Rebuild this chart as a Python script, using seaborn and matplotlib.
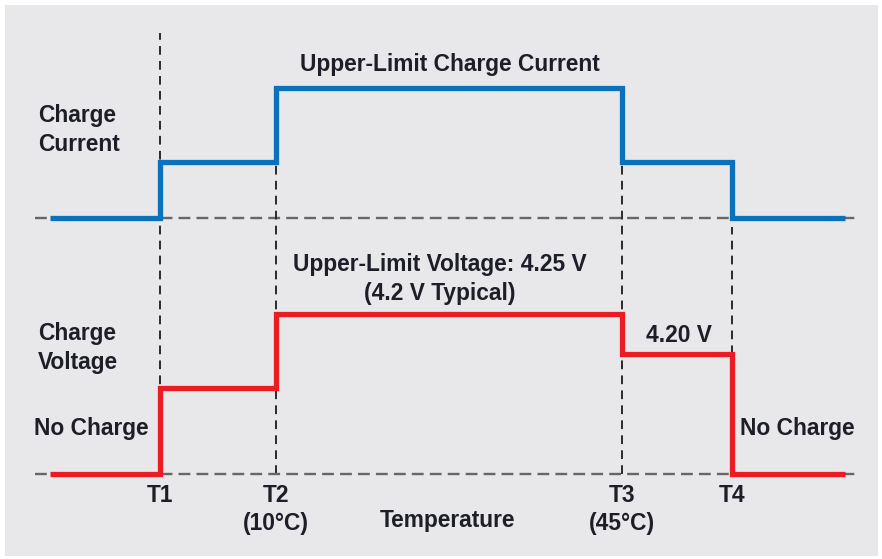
import matplotlib
matplotlib.use("Agg")
import matplotlib.pyplot as plt
import matplotlib.patches as mpatches
import seaborn as sns
import pandas as pd

# ---- data ----
# temperature breakpoints (relative units): start, T1, T2, T3, T4, end
temp_edges = [0.0, 1.0, 2.06, 5.22, 6.22, 7.25]
tick_labels = ["T1", "T2\n(10°C)", "T3\n(45°C)", "T4"]
# charge current level per segment (relative, upper limit = 1)
current_levels = [0.0, 0.43, 1.0, 0.43, 0.0]
# charge voltage level per segment (relative, 4.25 V = 1)
voltage_levels = [0.0, 0.54, 1.0, 0.75, 0.0]

sns.set_theme(style="white")
plt.rcParams["font.family"] = ["Liberation Sans", "DejaVu Sans"]

W, H = 882, 559
fig = plt.figure(figsize=(W / 100, H / 100), dpi=100, facecolor="white")
# gray panel
fig.patches.append(mpatches.Rectangle((5 / W, 3 / H), 873 / W, 551 / H,
                                      transform=fig.transFigure,
                                      facecolor="#e8e8ea", edgecolor="none", zorder=-10))

ax_c = fig.add_axes([0, 0, 1, 1], zorder=2)
ax_v = fig.add_axes([0, 0, 1, 1], zorder=3)
for ax in (ax_c, ax_v):
    ax.set_facecolor("none")
    ax.set_axis_off()

# x mapping: start -> pixel 50, end -> pixel 845
ppu = (845 - 50) / (temp_edges[-1] - temp_edges[0])
xmin = temp_edges[0] - 50 / ppu
xmax = xmin + W / ppu
for ax in (ax_c, ax_v):
    ax.set_xlim(xmin, xmax)

# y mapping (pixel positions from top)
def set_ylim(ax, base_px, top_px):
    s = base_px - top_px
    ax.set_ylim(-(H - base_px) / s, base_px / s)

set_ylim(ax_c, 218, 88)
set_ylim(ax_v, 474, 314)

blue = "#0a72bd"
red = "#ec1c24"
txt = "#1e1e28"

df_c = pd.DataFrame({"x": temp_edges, "y": current_levels + [current_levels[-1]]})
df_v = pd.DataFrame({"x": temp_edges, "y": voltage_levels + [voltage_levels[-1]]})

# horizontal dashed baselines
x0 = temp_edges[0] - 15 / ppu
x1 = temp_edges[-1] + 13 / ppu
for ax in (ax_c, ax_v):
    ax.hlines(0, x0, x1, colors="#666666", linestyles=(0, (5, 2.6)), linewidth=1.7, zorder=1)

# vertical dashed lines from level to voltage baseline
def to_c(yv):
    disp = ax_v.transData.transform((0, yv))
    return ax_c.transData.inverted().transform(disp)[1]

vb = to_c(0)
tops = [1.42, current_levels[1], current_levels[3], current_levels[4] - 0.07]
for xt, top in zip(temp_edges[1:5], tops):
    ax_c.vlines(xt, vb, top, colors="#2a2a2a", linestyles=(0, (4.5, 3.2)), linewidth=1.4, zorder=1)

sns.lineplot(data=df_c, x="x", y="y", ax=ax_c, color=blue, linewidth=3.8,
             drawstyle="steps-post", estimator=None, sort=False,
             solid_joinstyle="miter", solid_capstyle="butt", zorder=3)
sns.lineplot(data=df_v, x="x", y="y", ax=ax_v, color=red, linewidth=3.8,
             drawstyle="steps-post", estimator=None, sort=False,
             solid_joinstyle="miter", solid_capstyle="butt", zorder=3)
for ax in (ax_c, ax_v):
    ax.set_axis_off()
    leg = ax.get_legend()
    if leg:
        leg.remove()

fs = 16.4
kw = dict(color=txt, fontsize=fs, fontweight="bold", linespacing=1.3)
# annotations placed in figure pixel space
def ftext(xp, yp, s, ha="center", va="center"):
    fig.text(xp / W, 1 - yp / H, s, ha=ha, va=va, **kw)

ftext(450, 64, "Upper-Limit Charge Current")
ftext(38, 130, "Charge\nCurrent", ha="left")
ftext(440, 279, "Upper-Limit Voltage: 4.25 V\n(4.2 V Typical)")
ftext(38, 348, "Charge\nVoltage", ha="left")
ftext(679, 336, "4.20 V")
ftext(34, 429, "No Charge", ha="left")
ftext(740, 429, "No Charge", ha="left")

# tick labels under the voltage baseline
for xt, lab in zip(temp_edges[1:5], tick_labels):
    xp = ax_v.transData.transform((xt, 0))[0]
    fig.text(xp / W, 1 - 484 / H, lab, ha="center", va="top", **kw)
ftext(447, 521, "Temperature")

fig.savefig("out.png", dpi=100, facecolor="white")
